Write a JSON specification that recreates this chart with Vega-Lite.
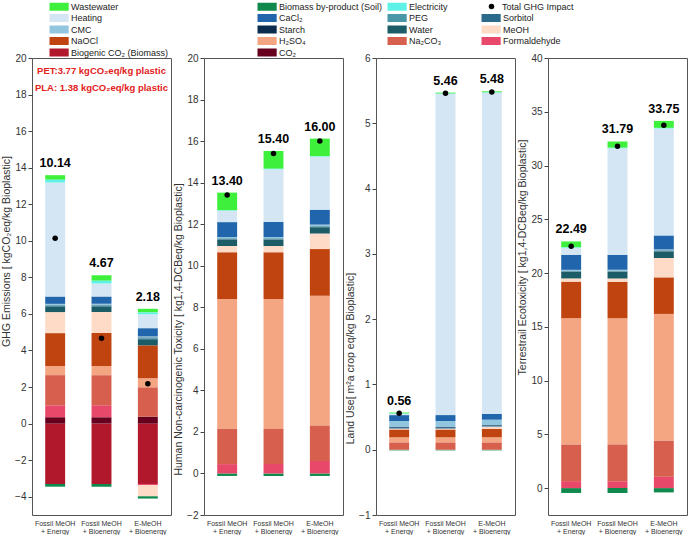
{
"$schema": "https://vega.github.io/schema/vega-lite/v6.json",
"padding": {"left": 1, "right": 1, "top": 2, "bottom": 0},
"spacing": 1,
"config": {
 "font": "Liberation Sans",
 "view": {"stroke": "#555", "strokeWidth": 1},
 "axis": {"labelFontSize": 10, "titleFontSize": 10.5, "titleFontWeight": "normal", "labelColor": "#333", "titleColor": "#333", "tickColor": "#444", "domain": false, "grid": false, "tickSize": 4, "labelPadding": 2, "titlePadding": 3, "labelOverlap": false},
 "axisX": {"ticks": false, "labelFontSize": 7, "labelLineHeight": 8, "labelPadding": 4, "labelAngle": 0},
 "bar": {"strokeWidth": 0},
 "legend": {"orient": "none", "title": null, "gridAlign": "each", "symbolType": "M-1,-1H3.8V1H-1Z", "symbolSize": 64, "symbolStrokeWidth": 0, "labelFontSize": 9, "labelOffset": 13, "labelLimit": 300, "padding": 0, "labelColor": "#222", "rowPadding": 1.5}
},
"datasets": {
 "comp": [
  {"p":"GHG","s":"Fossil MeOH + Energy","c":"Biogenic CO₂ (Biomass)","v":-3.30},
  {"p":"GHG","s":"Fossil MeOH + Energy","c":"CO₂","v":0.35},
  {"p":"GHG","s":"Fossil MeOH + Energy","c":"Formaldehyde","v":0.65},
  {"p":"GHG","s":"Fossil MeOH + Energy","c":"Na₂CO₃","v":1.65},
  {"p":"GHG","s":"Fossil MeOH + Energy","c":"H₂SO₄","v":0.50},
  {"p":"GHG","s":"Fossil MeOH + Energy","c":"NaOCl","v":1.80},
  {"p":"GHG","s":"Fossil MeOH + Energy","c":"MeOH","v":1.15},
  {"p":"GHG","s":"Fossil MeOH + Energy","c":"Water","v":0.30},
  {"p":"GHG","s":"Fossil MeOH + Energy","c":"Sorbitol","v":0.04},
  {"p":"GHG","s":"Fossil MeOH + Energy","c":"PEG","v":0.04},
  {"p":"GHG","s":"Fossil MeOH + Energy","c":"Starch","v":0.02},
  {"p":"GHG","s":"Fossil MeOH + Energy","c":"CMC","v":0.05},
  {"p":"GHG","s":"Fossil MeOH + Energy","c":"CaCl₂","v":0.40},
  {"p":"GHG","s":"Fossil MeOH + Energy","c":"Heating","v":6.24},
  {"p":"GHG","s":"Fossil MeOH + Energy","c":"Electricity","v":0.15},
  {"p":"GHG","s":"Fossil MeOH + Energy","c":"Wastewater","v":0.25},
  {"p":"GHG","s":"Fossil MeOH + Energy","c":"Biomass by-product (Soil)","v":-0.15},
  {"p":"GHG","s":"Fossil MeOH + Bioenergy","c":"Biogenic CO₂ (Biomass)","v":-3.30},
  {"p":"GHG","s":"Fossil MeOH + Bioenergy","c":"CO₂","v":0.35},
  {"p":"GHG","s":"Fossil MeOH + Bioenergy","c":"Formaldehyde","v":0.65},
  {"p":"GHG","s":"Fossil MeOH + Bioenergy","c":"Na₂CO₃","v":1.65},
  {"p":"GHG","s":"Fossil MeOH + Bioenergy","c":"H₂SO₄","v":0.50},
  {"p":"GHG","s":"Fossil MeOH + Bioenergy","c":"NaOCl","v":1.80},
  {"p":"GHG","s":"Fossil MeOH + Bioenergy","c":"MeOH","v":1.15},
  {"p":"GHG","s":"Fossil MeOH + Bioenergy","c":"Water","v":0.30},
  {"p":"GHG","s":"Fossil MeOH + Bioenergy","c":"Sorbitol","v":0.04},
  {"p":"GHG","s":"Fossil MeOH + Bioenergy","c":"PEG","v":0.04},
  {"p":"GHG","s":"Fossil MeOH + Bioenergy","c":"Starch","v":0.02},
  {"p":"GHG","s":"Fossil MeOH + Bioenergy","c":"CMC","v":0.05},
  {"p":"GHG","s":"Fossil MeOH + Bioenergy","c":"CaCl₂","v":0.40},
  {"p":"GHG","s":"Fossil MeOH + Bioenergy","c":"Heating","v":0.72},
  {"p":"GHG","s":"Fossil MeOH + Bioenergy","c":"Electricity","v":0.15},
  {"p":"GHG","s":"Fossil MeOH + Bioenergy","c":"Wastewater","v":0.30},
  {"p":"GHG","s":"Fossil MeOH + Bioenergy","c":"Biomass by-product (Soil)","v":-0.15},
  {"p":"GHG","s":"E-MeOH + Bioenergy","c":"Biogenic CO₂ (Biomass)","v":-3.30},
  {"p":"GHG","s":"E-MeOH + Bioenergy","c":"CO₂","v":0.38},
  {"p":"GHG","s":"E-MeOH + Bioenergy","c":"Formaldehyde","v":-0.07},
  {"p":"GHG","s":"E-MeOH + Bioenergy","c":"Na₂CO₃","v":1.60},
  {"p":"GHG","s":"E-MeOH + Bioenergy","c":"H₂SO₄","v":0.50},
  {"p":"GHG","s":"E-MeOH + Bioenergy","c":"NaOCl","v":1.80},
  {"p":"GHG","s":"E-MeOH + Bioenergy","c":"MeOH","v":-0.60},
  {"p":"GHG","s":"E-MeOH + Bioenergy","c":"Water","v":0.30},
  {"p":"GHG","s":"E-MeOH + Bioenergy","c":"Sorbitol","v":0.08},
  {"p":"GHG","s":"E-MeOH + Bioenergy","c":"PEG","v":0.04},
  {"p":"GHG","s":"E-MeOH + Bioenergy","c":"Starch","v":0.02},
  {"p":"GHG","s":"E-MeOH + Bioenergy","c":"CMC","v":0.05},
  {"p":"GHG","s":"E-MeOH + Bioenergy","c":"CaCl₂","v":0.45},
  {"p":"GHG","s":"E-MeOH + Bioenergy","c":"Heating","v":0.76},
  {"p":"GHG","s":"E-MeOH + Bioenergy","c":"Electricity","v":0.10},
  {"p":"GHG","s":"E-MeOH + Bioenergy","c":"Wastewater","v":0.20},
  {"p":"GHG","s":"E-MeOH + Bioenergy","c":"Biomass by-product (Soil)","v":-0.13},

  {"p":"HT","s":"Fossil MeOH + Energy","c":"Formaldehyde","v":0.45},
  {"p":"HT","s":"Fossil MeOH + Energy","c":"Na₂CO₃","v":1.70},
  {"p":"HT","s":"Fossil MeOH + Energy","c":"H₂SO₄","v":6.25},
  {"p":"HT","s":"Fossil MeOH + Energy","c":"NaOCl","v":2.25},
  {"p":"HT","s":"Fossil MeOH + Energy","c":"MeOH","v":0.30},
  {"p":"HT","s":"Fossil MeOH + Energy","c":"Water","v":0.30},
  {"p":"HT","s":"Fossil MeOH + Energy","c":"Sorbitol","v":0.03},
  {"p":"HT","s":"Fossil MeOH + Energy","c":"PEG","v":0.03},
  {"p":"HT","s":"Fossil MeOH + Energy","c":"Starch","v":0.01},
  {"p":"HT","s":"Fossil MeOH + Energy","c":"CMC","v":0.06},
  {"p":"HT","s":"Fossil MeOH + Energy","c":"CaCl₂","v":0.72},
  {"p":"HT","s":"Fossil MeOH + Energy","c":"Heating","v":0.55},
  {"p":"HT","s":"Fossil MeOH + Energy","c":"Electricity","v":0.02},
  {"p":"HT","s":"Fossil MeOH + Energy","c":"Wastewater","v":0.85},
  {"p":"HT","s":"Fossil MeOH + Energy","c":"Biomass by-product (Soil)","v":-0.12},
  {"p":"HT","s":"Fossil MeOH + Bioenergy","c":"Formaldehyde","v":0.45},
  {"p":"HT","s":"Fossil MeOH + Bioenergy","c":"Na₂CO₃","v":1.70},
  {"p":"HT","s":"Fossil MeOH + Bioenergy","c":"H₂SO₄","v":6.25},
  {"p":"HT","s":"Fossil MeOH + Bioenergy","c":"NaOCl","v":2.25},
  {"p":"HT","s":"Fossil MeOH + Bioenergy","c":"MeOH","v":0.30},
  {"p":"HT","s":"Fossil MeOH + Bioenergy","c":"Water","v":0.30},
  {"p":"HT","s":"Fossil MeOH + Bioenergy","c":"Sorbitol","v":0.03},
  {"p":"HT","s":"Fossil MeOH + Bioenergy","c":"PEG","v":0.03},
  {"p":"HT","s":"Fossil MeOH + Bioenergy","c":"Starch","v":0.01},
  {"p":"HT","s":"Fossil MeOH + Bioenergy","c":"CMC","v":0.06},
  {"p":"HT","s":"Fossil MeOH + Bioenergy","c":"CaCl₂","v":0.72},
  {"p":"HT","s":"Fossil MeOH + Bioenergy","c":"Heating","v":2.55},
  {"p":"HT","s":"Fossil MeOH + Bioenergy","c":"Electricity","v":0.02},
  {"p":"HT","s":"Fossil MeOH + Bioenergy","c":"Wastewater","v":0.85},
  {"p":"HT","s":"Fossil MeOH + Bioenergy","c":"Biomass by-product (Soil)","v":-0.12},
  {"p":"HT","s":"E-MeOH + Bioenergy","c":"Formaldehyde","v":0.60},
  {"p":"HT","s":"E-MeOH + Bioenergy","c":"Na₂CO₃","v":1.70},
  {"p":"HT","s":"E-MeOH + Bioenergy","c":"H₂SO₄","v":6.25},
  {"p":"HT","s":"E-MeOH + Bioenergy","c":"NaOCl","v":2.25},
  {"p":"HT","s":"E-MeOH + Bioenergy","c":"MeOH","v":0.75},
  {"p":"HT","s":"E-MeOH + Bioenergy","c":"Water","v":0.30},
  {"p":"HT","s":"E-MeOH + Bioenergy","c":"Sorbitol","v":0.03},
  {"p":"HT","s":"E-MeOH + Bioenergy","c":"PEG","v":0.03},
  {"p":"HT","s":"E-MeOH + Bioenergy","c":"Starch","v":0.01},
  {"p":"HT","s":"E-MeOH + Bioenergy","c":"CMC","v":0.06},
  {"p":"HT","s":"E-MeOH + Bioenergy","c":"CaCl₂","v":0.72},
  {"p":"HT","s":"E-MeOH + Bioenergy","c":"Heating","v":2.55},
  {"p":"HT","s":"E-MeOH + Bioenergy","c":"Electricity","v":0.02},
  {"p":"HT","s":"E-MeOH + Bioenergy","c":"Wastewater","v":0.85},
  {"p":"HT","s":"E-MeOH + Bioenergy","c":"Biomass by-product (Soil)","v":-0.12},

  {"p":"LU","s":"Fossil MeOH + Energy","c":"Na₂CO₃","v":0.11},
  {"p":"LU","s":"Fossil MeOH + Energy","c":"H₂SO₄","v":0.08},
  {"p":"LU","s":"Fossil MeOH + Energy","c":"NaOCl","v":0.12},
  {"p":"LU","s":"Fossil MeOH + Energy","c":"MeOH","v":0.01},
  {"p":"LU","s":"Fossil MeOH + Energy","c":"Sorbitol","v":0.005},
  {"p":"LU","s":"Fossil MeOH + Energy","c":"PEG","v":0.005},
  {"p":"LU","s":"Fossil MeOH + Energy","c":"Starch","v":0.015},
  {"p":"LU","s":"Fossil MeOH + Energy","c":"CMC","v":0.095},
  {"p":"LU","s":"Fossil MeOH + Energy","c":"CaCl₂","v":0.09},
  {"p":"LU","s":"Fossil MeOH + Energy","c":"Heating","v":0.02},
  {"p":"LU","s":"Fossil MeOH + Energy","c":"Electricity","v":0.005},
  {"p":"LU","s":"Fossil MeOH + Energy","c":"Wastewater","v":0.015},
  {"p":"LU","s":"Fossil MeOH + Energy","c":"Biomass by-product (Soil)","v":-0.01},
  {"p":"LU","s":"Fossil MeOH + Bioenergy","c":"Na₂CO₃","v":0.11},
  {"p":"LU","s":"Fossil MeOH + Bioenergy","c":"H₂SO₄","v":0.08},
  {"p":"LU","s":"Fossil MeOH + Bioenergy","c":"NaOCl","v":0.12},
  {"p":"LU","s":"Fossil MeOH + Bioenergy","c":"MeOH","v":0.01},
  {"p":"LU","s":"Fossil MeOH + Bioenergy","c":"Sorbitol","v":0.005},
  {"p":"LU","s":"Fossil MeOH + Bioenergy","c":"PEG","v":0.005},
  {"p":"LU","s":"Fossil MeOH + Bioenergy","c":"Starch","v":0.015},
  {"p":"LU","s":"Fossil MeOH + Bioenergy","c":"CMC","v":0.095},
  {"p":"LU","s":"Fossil MeOH + Bioenergy","c":"CaCl₂","v":0.09},
  {"p":"LU","s":"Fossil MeOH + Bioenergy","c":"Heating","v":4.92},
  {"p":"LU","s":"Fossil MeOH + Bioenergy","c":"Electricity","v":0.005},
  {"p":"LU","s":"Fossil MeOH + Bioenergy","c":"Wastewater","v":0.015},
  {"p":"LU","s":"Fossil MeOH + Bioenergy","c":"Biomass by-product (Soil)","v":-0.01},
  {"p":"LU","s":"E-MeOH + Bioenergy","c":"Na₂CO₃","v":0.11},
  {"p":"LU","s":"E-MeOH + Bioenergy","c":"H₂SO₄","v":0.08},
  {"p":"LU","s":"E-MeOH + Bioenergy","c":"NaOCl","v":0.13},
  {"p":"LU","s":"E-MeOH + Bioenergy","c":"MeOH","v":0.03},
  {"p":"LU","s":"E-MeOH + Bioenergy","c":"Sorbitol","v":0.005},
  {"p":"LU","s":"E-MeOH + Bioenergy","c":"PEG","v":0.005},
  {"p":"LU","s":"E-MeOH + Bioenergy","c":"Starch","v":0.015},
  {"p":"LU","s":"E-MeOH + Bioenergy","c":"CMC","v":0.085},
  {"p":"LU","s":"E-MeOH + Bioenergy","c":"CaCl₂","v":0.09},
  {"p":"LU","s":"E-MeOH + Bioenergy","c":"Heating","v":4.92},
  {"p":"LU","s":"E-MeOH + Bioenergy","c":"Electricity","v":0.005},
  {"p":"LU","s":"E-MeOH + Bioenergy","c":"Wastewater","v":0.015},
  {"p":"LU","s":"E-MeOH + Bioenergy","c":"Biomass by-product (Soil)","v":-0.01},

  {"p":"TE","s":"Fossil MeOH + Energy","c":"Formaldehyde","v":0.65},
  {"p":"TE","s":"Fossil MeOH + Energy","c":"Na₂CO₃","v":3.40},
  {"p":"TE","s":"Fossil MeOH + Energy","c":"H₂SO₄","v":11.75},
  {"p":"TE","s":"Fossil MeOH + Energy","c":"NaOCl","v":3.40},
  {"p":"TE","s":"Fossil MeOH + Energy","c":"MeOH","v":0.30},
  {"p":"TE","s":"Fossil MeOH + Energy","c":"Water","v":0.60},
  {"p":"TE","s":"Fossil MeOH + Energy","c":"Sorbitol","v":0.05},
  {"p":"TE","s":"Fossil MeOH + Energy","c":"PEG","v":0.05},
  {"p":"TE","s":"Fossil MeOH + Energy","c":"Starch","v":0.02},
  {"p":"TE","s":"Fossil MeOH + Energy","c":"CMC","v":0.08},
  {"p":"TE","s":"Fossil MeOH + Energy","c":"CaCl₂","v":1.40},
  {"p":"TE","s":"Fossil MeOH + Energy","c":"Heating","v":0.65},
  {"p":"TE","s":"Fossil MeOH + Energy","c":"Electricity","v":0.05},
  {"p":"TE","s":"Fossil MeOH + Energy","c":"Wastewater","v":0.54},
  {"p":"TE","s":"Fossil MeOH + Energy","c":"Biomass by-product (Soil)","v":-0.45},
  {"p":"TE","s":"Fossil MeOH + Bioenergy","c":"Formaldehyde","v":0.65},
  {"p":"TE","s":"Fossil MeOH + Bioenergy","c":"Na₂CO₃","v":3.40},
  {"p":"TE","s":"Fossil MeOH + Bioenergy","c":"H₂SO₄","v":11.75},
  {"p":"TE","s":"Fossil MeOH + Bioenergy","c":"NaOCl","v":3.40},
  {"p":"TE","s":"Fossil MeOH + Bioenergy","c":"MeOH","v":0.30},
  {"p":"TE","s":"Fossil MeOH + Bioenergy","c":"Water","v":0.60},
  {"p":"TE","s":"Fossil MeOH + Bioenergy","c":"Sorbitol","v":0.05},
  {"p":"TE","s":"Fossil MeOH + Bioenergy","c":"PEG","v":0.05},
  {"p":"TE","s":"Fossil MeOH + Bioenergy","c":"Starch","v":0.02},
  {"p":"TE","s":"Fossil MeOH + Bioenergy","c":"CMC","v":0.08},
  {"p":"TE","s":"Fossil MeOH + Bioenergy","c":"CaCl₂","v":1.40},
  {"p":"TE","s":"Fossil MeOH + Bioenergy","c":"Heating","v":9.90},
  {"p":"TE","s":"Fossil MeOH + Bioenergy","c":"Electricity","v":0.05},
  {"p":"TE","s":"Fossil MeOH + Bioenergy","c":"Wastewater","v":0.59},
  {"p":"TE","s":"Fossil MeOH + Bioenergy","c":"Biomass by-product (Soil)","v":-0.45},
  {"p":"TE","s":"E-MeOH + Bioenergy","c":"Formaldehyde","v":1.05},
  {"p":"TE","s":"E-MeOH + Bioenergy","c":"Na₂CO₃","v":3.35},
  {"p":"TE","s":"E-MeOH + Bioenergy","c":"H₂SO₄","v":11.80},
  {"p":"TE","s":"E-MeOH + Bioenergy","c":"NaOCl","v":3.40},
  {"p":"TE","s":"E-MeOH + Bioenergy","c":"MeOH","v":1.80},
  {"p":"TE","s":"E-MeOH + Bioenergy","c":"Water","v":0.60},
  {"p":"TE","s":"E-MeOH + Bioenergy","c":"Sorbitol","v":0.05},
  {"p":"TE","s":"E-MeOH + Bioenergy","c":"PEG","v":0.05},
  {"p":"TE","s":"E-MeOH + Bioenergy","c":"Starch","v":0.02},
  {"p":"TE","s":"E-MeOH + Bioenergy","c":"CMC","v":0.08},
  {"p":"TE","s":"E-MeOH + Bioenergy","c":"CaCl₂","v":1.30},
  {"p":"TE","s":"E-MeOH + Bioenergy","c":"Heating","v":9.95},
  {"p":"TE","s":"E-MeOH + Bioenergy","c":"Electricity","v":0.05},
  {"p":"TE","s":"E-MeOH + Bioenergy","c":"Wastewater","v":0.65},
  {"p":"TE","s":"E-MeOH + Bioenergy","c":"Biomass by-product (Soil)","v":-0.40}
 ]
},
"data": {"name": "comp"},
"transform": [
 {"window": [{"op": "row_number", "as": "o"}]},
 {"stack": "v", "groupby": ["p", "s"], "sort": [{"field": "o", "order": "ascending"}], "as": ["y0", "y1"]}
],
"hconcat": [
 {
  "width": 139, "height": 457,
  "title": {"text": ["PET:3.77 kgCO₂eq/kg plastic", "PLA: 1.38 kgCO₂eq/kg plastic"], "color": "#e3211c", "fontSize": 9.5, "fontWeight": "bold", "lineHeight": 17, "offset": -39, "anchor": "middle", "frame": "group"},
  "transform": [{"filter": "datum.p === 'GHG'"}],
  "encoding": {"x": {"field": "s", "type": "nominal", "title": null, "scale": {"domain": ["Fossil MeOH + Energy", "Fossil MeOH + Bioenergy", "E-MeOH + Bioenergy"], "paddingInner": 0.57, "paddingOuter": 0.285}, "axis": {"labelExpr": "[slice(datum.label, 0, indexof(datum.label, ' +')), slice(datum.label, indexof(datum.label, '+'))]"}}},
  "layer": [
   {"transform": [{"filter": {"field": "c", "oneOf": ["Wastewater", "Heating", "CMC", "NaOCl", "Biogenic CO₂ (Biomass)", "Biomass by-product (Soil)", "CaCl₂", "Starch", "H₂SO₄", "CO₂"]}}],
    "mark": {"type": "bar"},
    "encoding": {
     "y": {"field": "y0", "type": "quantitative", "scale": {"domain": [-5, 20], "nice": false, "zero": false}, "axis": {"tickCount": 13, "tickMinStep": 2, "format": "d", "labelOverlap": false, "labelBound": false, "labelFlush": false, "titleY": 193, "title": "GHG Emissions [ kgCO₂eq/kg Bioplastic]"}},
     "y2": {"field": "y1"},
     "color": {"field": "c", "type": "nominal", "scale": {"domain": ["Wastewater", "Heating", "CMC", "NaOCl", "Biogenic CO₂ (Biomass)", "Biomass by-product (Soil)", "CaCl₂", "Starch", "H₂SO₄", "CO₂"], "range": ["#3ef03c", "#d4e6f4", "#92c5de", "#bf4410", "#b2182b", "#0f8a4c", "#2166ac", "#0b2c4d", "#f4a582", "#67001f"]},
      "legend": {"legendX": 17, "legendY": -56, "columns": 2, "columnPadding": 88}}
    }},
   {"transform": [{"filter": {"field": "c", "oneOf": ["Electricity", "PEG", "Water", "Na₂CO₃", "Sorbitol", "MeOH", "Formaldehyde"]}}],
    "mark": {"type": "bar"},
    "encoding": {
     "y": {"field": "y0", "type": "quantitative", "scale": {"domain": [-5, 20], "nice": false, "zero": false}},
     "y2": {"field": "y1"},
     "fill": {"field": "c", "type": "nominal", "scale": {"domain": ["Electricity", "PEG", "Water", "Na₂CO₃", "Total GHG Impact", "Sorbitol", "MeOH", "Formaldehyde"], "range": ["#5ef2e6", "#4a97a8", "#1b5c66", "#d6604d", "rgba(255,255,255,0)", "#2a6b8c", "#fddbc7", "#e8486a"]},
      "legend": {"legendX": 355, "legendY": -56, "columns": 2, "columnPadding": 33, "labelExpr": "datum.value === 'Total GHG Impact' ? '' : datum.label"}}
    }},
   {"transform": [{"aggregate": [{"op": "sum", "field": "v", "as": "y0"}], "groupby": ["s"]}],
    "mark": {"type": "point", "filled": true, "color": "#000", "size": 30, "opacity": 1},
    "encoding": {
     "y": {"field": "y0", "type": "quantitative", "scale": {"domain": [-5, 20], "nice": false, "zero": false}},
     "shape": {"datum": "Total GHG Impact", "type": "nominal", "scale": {"domain": ["Total GHG Impact"], "range": ["circle"]},
      "legend": {"legendX": 455, "legendY": -56, "symbolType": "circle", "symbolSize": 30, "labelOffset": 6}}
    }},
   {"transform": [{"joinaggregate": [{"op": "sum", "field": "v", "as": "net"}], "groupby": ["s"]}, {"filter": "datum.v > 0"}, {"aggregate": [{"op": "sum", "field": "v", "as": "y0"}, {"op": "max", "field": "net", "as": "net"}], "groupby": ["s"]}],
    "mark": {"type": "text", "fontWeight": "bold", "fontSize": 12.5, "dy": -12, "baseline": "middle", "color": "#000"},
    "encoding": {
     "y": {"field": "y0", "type": "quantitative", "scale": {"domain": [-5, 20], "nice": false, "zero": false}},
     "text": {"field": "net", "type": "quantitative", "format": ".2f"}
    }}
  ]
 },
 {
  "width": 139, "height": 457,
  "transform": [{"filter": "datum.p === 'HT'"}],
  "encoding": {"x": {"field": "s", "type": "nominal", "title": null, "scale": {"domain": ["Fossil MeOH + Energy", "Fossil MeOH + Bioenergy", "E-MeOH + Bioenergy"], "paddingInner": 0.57, "paddingOuter": 0.285}, "axis": {"labelExpr": "[slice(datum.label, 0, indexof(datum.label, ' +')), slice(datum.label, indexof(datum.label, '+'))]"}}},
  "layer": [
   {"transform": [{"filter": {"field": "c", "oneOf": ["Wastewater", "Heating", "CMC", "NaOCl", "Biogenic CO₂ (Biomass)", "Biomass by-product (Soil)", "CaCl₂", "Starch", "H₂SO₄", "CO₂"]}}],
    "mark": {"type": "bar"},
    "encoding": {
     "y": {"field": "y0", "type": "quantitative", "scale": {"domain": [-2, 20], "nice": false, "zero": false}, "axis": {"values": [-2, 0, 2, 4, 6, 8, 10, 12, 14, 16, 18, 20], "format": "d", "labelOverlap": false, "titleY": 271, "title": "Human Non-carcinogenic Toxicity [ kg1,4-DCBeq/kg Bioplastic]"}},
     "y2": {"field": "y1"},
     "color": {"field": "c", "type": "nominal", "scale": {"domain": ["Wastewater", "Heating", "CMC", "NaOCl", "Biogenic CO₂ (Biomass)", "Biomass by-product (Soil)", "CaCl₂", "Starch", "H₂SO₄", "CO₂"], "range": ["#3ef03c", "#d4e6f4", "#92c5de", "#bf4410", "#b2182b", "#0f8a4c", "#2166ac", "#0b2c4d", "#f4a582", "#67001f"]},
      "legend": {"legendX": 17, "legendY": -56, "columns": 2, "columnPadding": 88}}
    }},
   {"transform": [{"filter": {"field": "c", "oneOf": ["Electricity", "PEG", "Water", "Na₂CO₃", "Sorbitol", "MeOH", "Formaldehyde"]}}],
    "mark": {"type": "bar"},
    "encoding": {
     "y": {"field": "y0", "type": "quantitative", "scale": {"domain": [-2, 20], "nice": false, "zero": false}},
     "y2": {"field": "y1"},
     "fill": {"field": "c", "type": "nominal", "scale": {"domain": ["Electricity", "PEG", "Water", "Na₂CO₃", "Total GHG Impact", "Sorbitol", "MeOH", "Formaldehyde"], "range": ["#5ef2e6", "#4a97a8", "#1b5c66", "#d6604d", "rgba(255,255,255,0)", "#2a6b8c", "#fddbc7", "#e8486a"]},
      "legend": {"legendX": 355, "legendY": -56, "columns": 2, "columnPadding": 33, "labelExpr": "datum.value === 'Total GHG Impact' ? '' : datum.label"}}
    }},
   {"transform": [{"aggregate": [{"op": "sum", "field": "v", "as": "y0"}], "groupby": ["s"]}],
    "mark": {"type": "point", "filled": true, "color": "#000", "size": 30, "opacity": 1},
    "encoding": {
     "y": {"field": "y0", "type": "quantitative", "scale": {"domain": [-2, 20], "nice": false, "zero": false}},
     "shape": {"datum": "Total GHG Impact", "type": "nominal", "scale": {"domain": ["Total GHG Impact"], "range": ["circle"]},
      "legend": {"legendX": 455, "legendY": -56, "symbolType": "circle", "symbolSize": 30, "labelOffset": 6}}
    }},
   {"transform": [{"joinaggregate": [{"op": "sum", "field": "v", "as": "net"}], "groupby": ["s"]}, {"filter": "datum.v > 0"}, {"aggregate": [{"op": "sum", "field": "v", "as": "y0"}, {"op": "max", "field": "net", "as": "net"}], "groupby": ["s"]}],
    "mark": {"type": "text", "fontWeight": "bold", "fontSize": 12.5, "dy": -12, "baseline": "middle", "color": "#000"},
    "encoding": {
     "y": {"field": "y0", "type": "quantitative", "scale": {"domain": [-2, 20], "nice": false, "zero": false}},
     "text": {"field": "net", "type": "quantitative", "format": ".2f"}
    }}
  ]
 },
 {
  "width": 139, "height": 457,
  "transform": [{"filter": "datum.p === 'LU'"}],
  "encoding": {"x": {"field": "s", "type": "nominal", "title": null, "scale": {"domain": ["Fossil MeOH + Energy", "Fossil MeOH + Bioenergy", "E-MeOH + Bioenergy"], "paddingInner": 0.57, "paddingOuter": 0.285}, "axis": {"labelExpr": "[slice(datum.label, 0, indexof(datum.label, ' +')), slice(datum.label, indexof(datum.label, '+'))]"}}},
  "layer": [
   {"transform": [{"filter": {"field": "c", "oneOf": ["Wastewater", "Heating", "CMC", "NaOCl", "Biogenic CO₂ (Biomass)", "Biomass by-product (Soil)", "CaCl₂", "Starch", "H₂SO₄", "CO₂"]}}],
    "mark": {"type": "bar"},
    "encoding": {
     "y": {"field": "y0", "type": "quantitative", "scale": {"domain": [-1, 6], "nice": false, "zero": false}, "axis": {"values": [-1, 0, 1, 2, 3, 4, 5, 6], "format": "d", "labelOverlap": false, "titleY": 300, "title": "Land Use[ m²a crop eq/kg Bioplastic]"}},
     "y2": {"field": "y1"},
     "color": {"field": "c", "type": "nominal", "scale": {"domain": ["Wastewater", "Heating", "CMC", "NaOCl", "Biogenic CO₂ (Biomass)", "Biomass by-product (Soil)", "CaCl₂", "Starch", "H₂SO₄", "CO₂"], "range": ["#3ef03c", "#d4e6f4", "#92c5de", "#bf4410", "#b2182b", "#0f8a4c", "#2166ac", "#0b2c4d", "#f4a582", "#67001f"]},
      "legend": {"legendX": 17, "legendY": -56, "columns": 2, "columnPadding": 88}}
    }},
   {"transform": [{"filter": {"field": "c", "oneOf": ["Electricity", "PEG", "Water", "Na₂CO₃", "Sorbitol", "MeOH", "Formaldehyde"]}}],
    "mark": {"type": "bar"},
    "encoding": {
     "y": {"field": "y0", "type": "quantitative", "scale": {"domain": [-1, 6], "nice": false, "zero": false}},
     "y2": {"field": "y1"},
     "fill": {"field": "c", "type": "nominal", "scale": {"domain": ["Electricity", "PEG", "Water", "Na₂CO₃", "Total GHG Impact", "Sorbitol", "MeOH", "Formaldehyde"], "range": ["#5ef2e6", "#4a97a8", "#1b5c66", "#d6604d", "rgba(255,255,255,0)", "#2a6b8c", "#fddbc7", "#e8486a"]},
      "legend": {"legendX": 355, "legendY": -56, "columns": 2, "columnPadding": 33, "labelExpr": "datum.value === 'Total GHG Impact' ? '' : datum.label"}}
    }},
   {"transform": [{"aggregate": [{"op": "sum", "field": "v", "as": "y0"}], "groupby": ["s"]}],
    "mark": {"type": "point", "filled": true, "color": "#000", "size": 30, "opacity": 1},
    "encoding": {
     "y": {"field": "y0", "type": "quantitative", "scale": {"domain": [-1, 6], "nice": false, "zero": false}},
     "shape": {"datum": "Total GHG Impact", "type": "nominal", "scale": {"domain": ["Total GHG Impact"], "range": ["circle"]},
      "legend": {"legendX": 455, "legendY": -56, "symbolType": "circle", "symbolSize": 30, "labelOffset": 6}}
    }},
   {"transform": [{"joinaggregate": [{"op": "sum", "field": "v", "as": "net"}], "groupby": ["s"]}, {"filter": "datum.v > 0"}, {"aggregate": [{"op": "sum", "field": "v", "as": "y0"}, {"op": "max", "field": "net", "as": "net"}], "groupby": ["s"]}],
    "mark": {"type": "text", "fontWeight": "bold", "fontSize": 12.5, "dy": -12, "baseline": "middle", "color": "#000"},
    "encoding": {
     "y": {"field": "y0", "type": "quantitative", "scale": {"domain": [-1, 6], "nice": false, "zero": false}},
     "text": {"field": "net", "type": "quantitative", "format": ".2f"}
    }}
  ]
 },
 {
  "width": 139, "height": 457,
  "transform": [{"filter": "datum.p === 'TE'"}],
  "encoding": {"x": {"field": "s", "type": "nominal", "title": null, "scale": {"domain": ["Fossil MeOH + Energy", "Fossil MeOH + Bioenergy", "E-MeOH + Bioenergy"], "paddingInner": 0.57, "paddingOuter": 0.285}, "axis": {"labelExpr": "[slice(datum.label, 0, indexof(datum.label, ' +')), slice(datum.label, indexof(datum.label, '+'))]"}}},
  "layer": [
   {"transform": [{"filter": {"field": "c", "oneOf": ["Wastewater", "Heating", "CMC", "NaOCl", "Biogenic CO₂ (Biomass)", "Biomass by-product (Soil)", "CaCl₂", "Starch", "H₂SO₄", "CO₂"]}}],
    "mark": {"type": "bar"},
    "encoding": {
     "y": {"field": "y0", "type": "quantitative", "scale": {"domain": [-2.5, 40], "nice": false, "zero": false}, "axis": {"values": [0, 5, 10, 15, 20, 25, 30, 35, 40], "format": "d", "labelOverlap": false, "titleY": 199, "title": "Terrestrail Ecotoxicity  [ kg1,4-DCBeq/kg Bioplastic]"}},
     "y2": {"field": "y1"},
     "color": {"field": "c", "type": "nominal", "scale": {"domain": ["Wastewater", "Heating", "CMC", "NaOCl", "Biogenic CO₂ (Biomass)", "Biomass by-product (Soil)", "CaCl₂", "Starch", "H₂SO₄", "CO₂"], "range": ["#3ef03c", "#d4e6f4", "#92c5de", "#bf4410", "#b2182b", "#0f8a4c", "#2166ac", "#0b2c4d", "#f4a582", "#67001f"]},
      "legend": {"legendX": 17, "legendY": -56, "columns": 2, "columnPadding": 88}}
    }},
   {"transform": [{"filter": {"field": "c", "oneOf": ["Electricity", "PEG", "Water", "Na₂CO₃", "Sorbitol", "MeOH", "Formaldehyde"]}}],
    "mark": {"type": "bar"},
    "encoding": {
     "y": {"field": "y0", "type": "quantitative", "scale": {"domain": [-2.5, 40], "nice": false, "zero": false}},
     "y2": {"field": "y1"},
     "fill": {"field": "c", "type": "nominal", "scale": {"domain": ["Electricity", "PEG", "Water", "Na₂CO₃", "Total GHG Impact", "Sorbitol", "MeOH", "Formaldehyde"], "range": ["#5ef2e6", "#4a97a8", "#1b5c66", "#d6604d", "rgba(255,255,255,0)", "#2a6b8c", "#fddbc7", "#e8486a"]},
      "legend": {"legendX": 355, "legendY": -56, "columns": 2, "columnPadding": 33, "labelExpr": "datum.value === 'Total GHG Impact' ? '' : datum.label"}}
    }},
   {"transform": [{"aggregate": [{"op": "sum", "field": "v", "as": "y0"}], "groupby": ["s"]}],
    "mark": {"type": "point", "filled": true, "color": "#000", "size": 30, "opacity": 1},
    "encoding": {
     "y": {"field": "y0", "type": "quantitative", "scale": {"domain": [-2.5, 40], "nice": false, "zero": false}},
     "shape": {"datum": "Total GHG Impact", "type": "nominal", "scale": {"domain": ["Total GHG Impact"], "range": ["circle"]},
      "legend": {"legendX": 455, "legendY": -56, "symbolType": "circle", "symbolSize": 30, "labelOffset": 6}}
    }},
   {"transform": [{"joinaggregate": [{"op": "sum", "field": "v", "as": "net"}], "groupby": ["s"]}, {"filter": "datum.v > 0"}, {"aggregate": [{"op": "sum", "field": "v", "as": "y0"}, {"op": "max", "field": "net", "as": "net"}], "groupby": ["s"]}],
    "mark": {"type": "text", "fontWeight": "bold", "fontSize": 12.5, "dy": -12, "baseline": "middle", "color": "#000"},
    "encoding": {
     "y": {"field": "y0", "type": "quantitative", "scale": {"domain": [-2.5, 40], "nice": false, "zero": false}},
     "text": {"field": "net", "type": "quantitative", "format": ".2f"}
    }}
  ]
 }
]
}
